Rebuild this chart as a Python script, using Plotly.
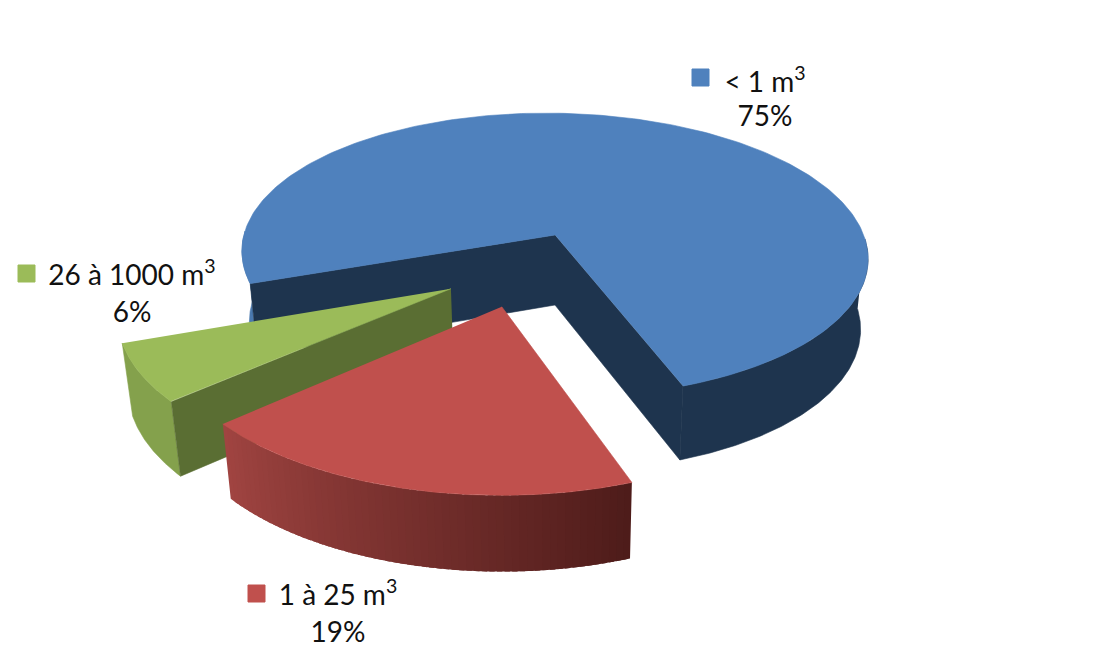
import numpy as np
import plotly.graph_objects as go

# ---- data ----
categories = ["< 1 m<sup>3</sup>", "1 à 25 m<sup>3</sup>", "26 à 1000 m<sup>3</sup>"]
shares = [75, 19, 6]

# ---- styling / geometry of the tilted, exploded pie (pixel-space camera) ----
WIDTH, HEIGHT = 1100, 656
CX, CY = 555.0, 235.0     # screen position of the pie centre
RX, RY = 310.0, 139.0     # projected radii
PERSP = 0.141             # perspective strength
TILT = 0.0127             # slight roll of the plane
THICK = 70.0              # thickness of the pie
START = 249.0             # first-slice angle, clockwise from the back
EXPLODE = [(0.0, 0.0), (-0.160, 0.485), (-0.318, 0.375)]
TOP = ["#4F81BD", "#C0504D", "#9BBB59"]
FACE = ["#1E344E", None, "#5A6E33"]
TEXT_FONT = dict(family="Lato", size=28, color="#111111")


def project(X, Y, bottom=False):
    X, Y = np.asarray(X, float), np.asarray(Y, float)
    w = 1 - PERSP * Y
    dx = RX * X / w
    dy = RY * Y / w + TILT * dx
    if bottom:
        dy = dy + THICK * (1 + 0.06 * Y)
        dx = dx * (1 - 0.024)
    return CX + dx, CY + dy


def rim(a0, a1, off, n=120):
    t = np.radians(np.linspace(a0, a1, n))
    return off[0] + np.sin(t), off[1] - np.cos(t)


fig = go.Figure()


def poly(x, y, color, outline=0.6):
    fig.add_trace(go.Scatter(
        x=list(x), y=list(y), mode="lines" if outline else "none", fill="toself", fillcolor=color,
        line=dict(color=color, width=outline), hoverinfo="skip", showlegend=False))


def wall(a0, a1, off, color, n=120, outline=0.6):
    X, Y = rim(a0, a1, off, n)
    xt, yt = project(X, Y)
    xb, yb = project(X, Y, True)
    poly(np.r_[xt, xb[::-1]], np.r_[yt, yb[::-1]], color, outline)


def face(a, off, color):
    X, Y = rim(a, a, off, 1)
    xt, yt = project(X, Y)
    xb, yb = project(X, Y, True)
    ax, ay = project([off[0]], [off[1]])
    bx, by = project([off[0]], [off[1]], True)
    poly([ax[0], xt[0], xb[0], bx[0]], [ay[0], yt[0], yb[0], by[0]], color)


def top(a0, a1, off, color):
    X, Y = rim(a0, a1, off, 240)
    xt, yt = project(X, Y)
    ax, ay = project([off[0]], [off[1]])
    poly(np.r_[ax, xt], np.r_[ay, yt], color)


def mix(c0, c1, f):
    return "rgb(%d,%d,%d)" % tuple(round(a + (b - a) * f) for a, b in zip(c0, c1))


# slice boundaries derived from the values
total = sum(shares)
edges = [START]
for s in shares:
    edges.append(edges[-1] + 360.0 * s / total)

# blue slice: wraps around the back
a0, a1 = edges[0], edges[1]
off = EXPLODE[0]
wall(a0, 270, off, "#4A78AE")
wall(450, a1, off, "#1E344E")
face(a0, off, FACE[0])
face(a1, off, FACE[0])
top(a0, a1, off, TOP[0])

# green slice
a0, a1 = edges[2], edges[3]
off = EXPLODE[2]
wall(a0, a1, off, "#84A14C")
face(a0, off, FACE[2])
top(a0, a1, off, TOP[2])

# red slice, wall shaded from the lit left to the dark right
a0, a1 = edges[1], edges[2]
off = EXPLODE[1]
steps = 60
angles = np.linspace(a1, a0, steps + 1)
for i in range(steps):
    end = max(angles[i + 1] - 0.8, a0)
    wall(angles[i], end, off, mix((160, 68, 65), (78, 28, 26), i / (steps - 1)), n=4, outline=0)
top(a0, a1, off, TOP[1])

# legend-like data labels, drawn as text marks
label_pos = [(765, 85, 765, 119), (338, 598, 338, 635), (132, 278, 132, 315)]
key_pos = [(692, 69), (248, 585), (18, 265)]
for cat, share, colr, (lx, ly, px, py), (kx, ky) in zip(categories, shares, TOP, label_pos, key_pos):
    fig.add_trace(go.Scatter(x=[lx, px], y=[ly, py], mode="text", text=[cat, f"{share}%"],
                             textposition="middle center", textfont=TEXT_FONT,
                             hoverinfo="skip", showlegend=False))
    fig.add_shape(type="rect", x0=kx, x1=kx + 17, y0=ky, y1=ky + 17, fillcolor=colr,
                  line=dict(color=colr, width=1))

fig.update_layout(
    width=WIDTH, height=HEIGHT, margin=dict(l=0, r=0, t=0, b=0),
    paper_bgcolor="white", plot_bgcolor="white", showlegend=False,
    xaxis=dict(range=[0, WIDTH], visible=False, fixedrange=True),
    yaxis=dict(range=[HEIGHT, 0], visible=False, fixedrange=True),
)
fig.write_html("out.html", config={"displayModeBar": False},
               post_script="document.body.style.margin='0';")
